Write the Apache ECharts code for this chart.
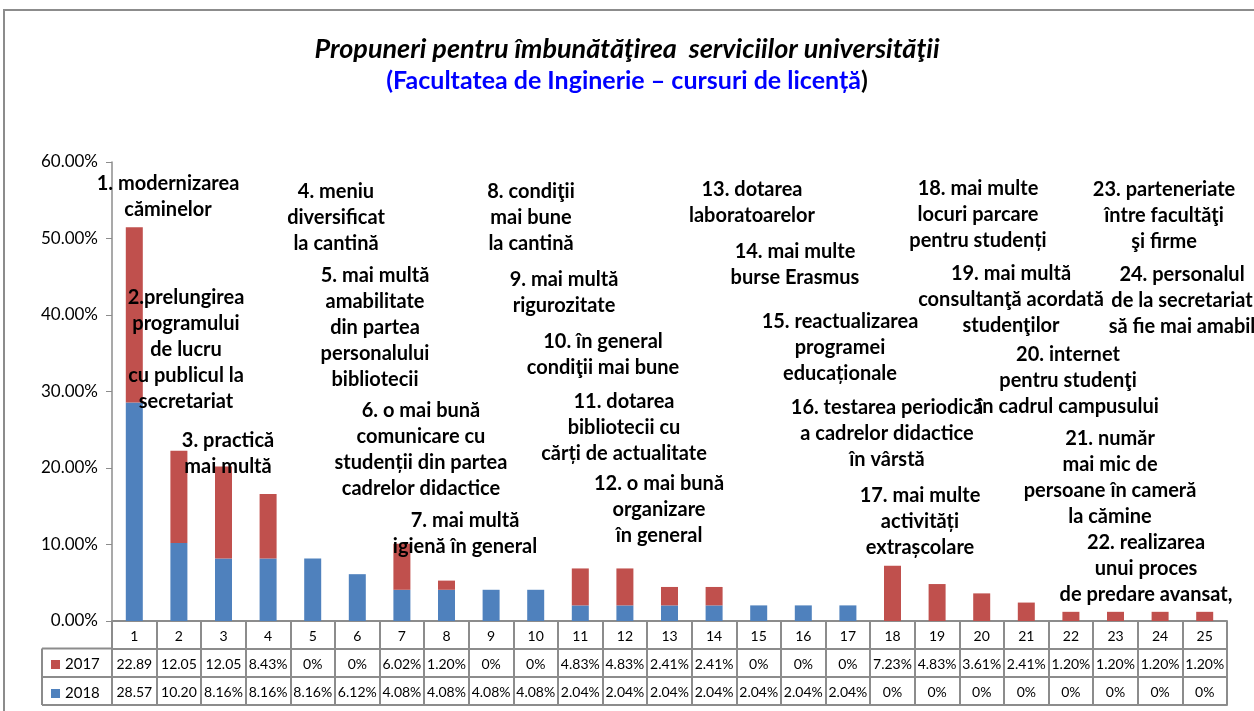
<!DOCTYPE html>
<html>
<head>
<meta charset="utf-8">
<script src="https://cdn.jsdelivr.net/npm/echarts@6/dist/echarts.min.js"></script>
<style>
    html, body { margin: 0; padding: 0; background: #fff; }
    #chart { width: 1254px; height: 711px; }
</style>
</head>
<body>
<div id="chart"></div>
<script>
    var categories = ['1', '2', '3', '4', '5', '6', '7', '8', '9', '10', '11', '12', '13',
        '14', '15', '16', '17', '18', '19', '20', '21', '22', '23', '24', '25'];
    var values2017 = [22.89, 12.05, 12.05, 8.43, 0, 0, 6.02, 1.20, 0, 0, 4.83, 4.83, 2.41,
        2.41, 0, 0, 0, 7.23, 4.83, 3.61, 2.41, 1.20, 1.20, 1.20, 1.20];
    var values2018 = [28.57, 10.20, 8.16, 8.16, 8.16, 6.12, 4.08, 4.08, 4.08, 4.08, 2.04, 2.04, 2.04,
        2.04, 2.04, 2.04, 2.04, 0, 0, 0, 0, 0, 0, 0, 0];
    var seriesNames = ['2017', '2018'];

    var titleText = 'Propuneri pentru îmbunătăţirea  serviciilor universităţii';
    var subtitleText = '(Facultatea de Inginerie – cursuri de licență';

    // propunerile scrise peste grafic
    var notes = [
        '1. modernizarea\ncăminelor',
        '2.prelungirea\nprogramului\nde lucru\ncu publicul la\nsecretariat',
        '3. practică\nmai multă',
        '4. meniu\ndiversificat\nla cantină',
        '5. mai multă\namabilitate\ndin partea\npersonalului\nbibliotecii',
        '6. o mai bună\ncomunicare cu\nstudenții din partea\ncadrelor didactice',
        '7. mai multă\nigienă în general',
        '8. condiţii\nmai bune\nla cantină',
        '9. mai multă\nrigurozitate',
        '10. în general\ncondiţii mai bune',
        '11. dotarea\nbibliotecii cu\ncărți de actualitate',
        '12. o mai bună\norganizare\nîn general',
        '13. dotarea\nlaboratoarelor',
        '14. mai multe\nburse Erasmus',
        '15. reactualizarea\nprogramei\neducaționale',
        '16. testarea periodică\na cadrelor didactice\nîn vârstă',
        '17. mai multe\nactivități\nextrașcolare',
        '18. mai multe\nlocuri parcare\npentru studenți',
        '19. mai multă\nconsultanţă acordată\nstudenţilor',
        '20. internet\npentru studenţi\nîn cadrul campusului',
        '21. număr\nmai mic de\npersoane în cameră\nla cămine',
        '22. realizarea\nunui proces\nde predare avansat,',
        '23. parteneriate\nîntre facultăţi\nşi firme',
        '24. personalul\nde la secretariat\nsă fie mai amabil'
    ];
    // centru x, y primul rand
    var notePos = [
        [168, 184], [186, 298], [228, 441], [336, 192], [375, 276], [421, 411],
        [465, 521], [531, 192], [564, 280], [603, 342], [624, 402], [659, 484],
        [752, 190], [795, 252], [840, 322], [887, 408], [920, 496], [978, 189],
        [1011, 274], [1068, 355], [1110, 439], [1146, 543], [1164, 190], [1182, 275]
    ];

    var FONT = 'Lato, "Noto Sans", sans-serif';
    var LINE = '#8c8c8c';

    function cell(v) {
        var s = v === 0 ? '0%' : v.toFixed(2) + '%';
        return s.length > 5 ? s.slice(0, 5) : s;
    }

    function tableAxis(offset, values) {
        return {
            type: 'category',
            data: categories,
            position: 'bottom',
            offset: offset,
            axisLine: { show: true, lineStyle: { color: LINE, width: 2 } },
            axisTick: { show: false },
            axisLabel: {
                show: !!values,
                interval: 0,
                hideOverlap: false,
                margin: 8,
                fontSize: 14,
                fontFamily: FONT,
                color: '#000',
                formatter: function (val, idx) { return values ? cell(values[idx]) : ''; }
            }
        };
    }

    var graphics = [
        { type: 'rect', silent: true, shape: { x: 4, y: 10, width: 1270, height: 720 },
          style: { fill: 'none', stroke: LINE, lineWidth: 2 } },
        { type: 'line', shape: { x1: 42, y1: 648.5, x2: 112, y2: 648.5 }, style: { stroke: LINE, lineWidth: 2 } },
        { type: 'line', shape: { x1: 42, y1: 677, x2: 112, y2: 677 }, style: { stroke: LINE, lineWidth: 2 } },
        { type: 'line', shape: { x1: 42, y1: 705, x2: 112, y2: 705 }, style: { stroke: LINE, lineWidth: 2 } },
        { type: 'line', shape: { x1: 42, y1: 648.5, x2: 42, y2: 705 }, style: { stroke: LINE, lineWidth: 2 } }
    ];
    notes.forEach(function (t, i) {
        graphics.push({
            type: 'text',
            x: notePos[i][0],
            y: notePos[i][1] - 13,
            z: 100,
            style: {
                text: t,
                font: 'bold 20px ' + FONT,
                fill: '#000',
                align: 'center',
                verticalAlign: 'top',
                lineHeight: 26
            }
        });
    });

    var chart = echarts.init(document.getElementById('chart'));
    chart.setOption({
        animation: false,
        title: {
            text: titleText,
            subtext: '{b|' + subtitleText + '}{k|)}',
            left: 'center',
            top: 31,
            itemGap: 5,
            textStyle: { fontFamily: FONT, fontStyle: 'italic', fontWeight: 'bold', fontSize: 27, color: '#000' },
            subtextStyle: {
                rich: {
                    b: { fontFamily: FONT, fontWeight: 'bold', fontSize: 25, color: '#0000ff' },
                    k: { fontFamily: FONT, fontWeight: 'bold', fontSize: 25, color: '#000' }
                }
            }
        },
        legend: {
            data: seriesNames,
            orient: 'vertical',
            left: 46,
            top: 652,
            itemWidth: 9,
            itemHeight: 9,
            itemGap: 14,
            icon: 'rect',
            textStyle: { fontFamily: FONT, fontSize: 15, color: '#000' }
        },
        grid: { left: 112, right: 27, top: 162, bottom: 90, containLabel: false },
        xAxis: [
            {
                type: 'category',
                data: categories,
                position: 'bottom',
                axisLine: { show: true, lineStyle: { color: LINE, width: 2 } },
                axisTick: { show: true, length: 84, lineStyle: { color: LINE, width: 2 } },
                axisLabel: { interval: 0, margin: 8, fontSize: 14, fontFamily: FONT, color: '#000' }
            },
            tableAxis(28, values2017),
            tableAxis(56, values2018),
            tableAxis(84, null)
        ],
        yAxis: {
            type: 'value',
            min: 0,
            max: 60,
            interval: 10,
            axisLine: { show: true, lineStyle: { color: LINE, width: 1.5 } },
            axisTick: { show: true, length: 6, lineStyle: { color: LINE } },
            splitLine: { show: false },
            axisLabel: {
                margin: 14,
                fontSize: 17,
                fontFamily: FONT,
                color: '#000',
                formatter: function (v) { return v.toFixed(2) + '%'; }
            }
        },
        series: [
            { name: '2018', type: 'bar', stack: 'total', barWidth: 17, data: values2018,
              itemStyle: { color: '#4F81BD' } },
            { name: '2017', type: 'bar', stack: 'total', barWidth: 17, data: values2017,
              itemStyle: { color: '#C0504D' } }
        ],
        graphic: graphics
    });
</script>
</body>
</html>
